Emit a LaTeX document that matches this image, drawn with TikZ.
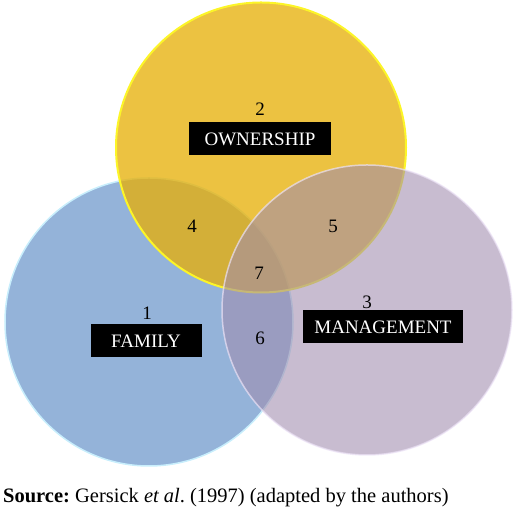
\documentclass[tikz,border=0pt]{standalone}
\usepackage{fontspec}
\setmainfont{Liberation Serif}
\frenchspacing
\definecolor{famblue}{RGB}{148,179,217}
\definecolor{famedge}{RGB}{200,238,252}
\definecolor{ownyellow}{RGB}{230,175,8}
\definecolor{ownedge}{RGB}{252,245,40}
\definecolor{mgtpurple}{RGB}{160,140,174}
\definecolor{mgtedge}{RGB}{236,226,246}
\begin{document}
\begin{tikzpicture}[x=1pt,y=1pt,
    every node/.style={font=\fontsize{19}{19}\selectfont},
    namebox/.style={fill=black,text=white,minimum height=33pt,inner sep=0pt}]
  \useasboundingbox (0,0) rectangle (520,510);
  \draw[fill=famblue,draw=famedge,line width=1.5pt] (149,188) circle (144);
  \draw[fill=ownyellow,fill opacity=.77,draw=ownedge,line width=2pt] (261,362.5) circle (145);
  \draw[fill=mgtpurple,fill opacity=.58,draw=mgtedge,draw opacity=.7,line width=1.5pt] (367,200) circle (145);
  \draw
    (147,197) node (1){1}
    (260,401) node (2){2}
    (367,208) node (3){3}
    (192,284) node (4){4}
    (333,284) node (5){5}
    (260,172) node (6){6}
    (259,237) node (7){7};
  \draw
    (146,169) node[namebox,minimum width=111pt] (family){FAMILY}
    (260,371) node[namebox,minimum width=142pt] (ownership){OWNERSHIP}
    (383,183) node[namebox,minimum width=160pt] (management){MANAGEMENT};
  \node[anchor=base west,inner sep=0pt,font=\fontsize{20.5}{20.5}\selectfont] (source) at (3,7)
    {\textbf{Source:} Gersick \textit{et al}. (1997) (adapted by the authors)};
\end{tikzpicture}
\end{document}
